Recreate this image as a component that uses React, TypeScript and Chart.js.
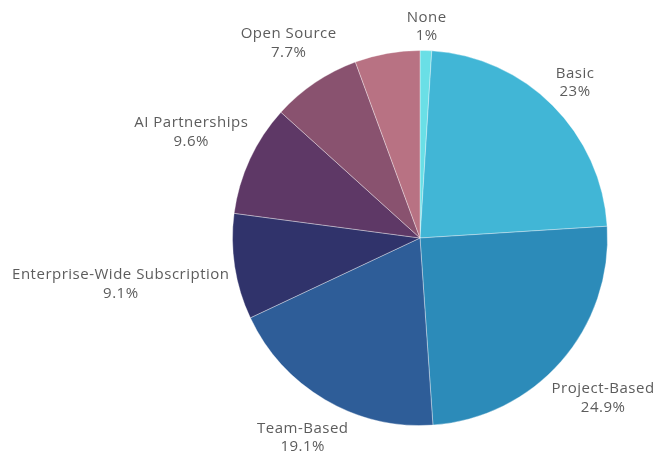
import React, { useEffect, useRef } from "react";
import { Chart, registerables } from "chart.js";

Chart.register(...registerables);

const categories = [
  "None",
  "Basic",
  "Project-Based",
  "Team-Based",
  "Enterprise-Wide Subscription",
  "AI Partnerships",
  "Open Source",
  "Other",
];
const values = [1, 23, 24.9, 19.1, 9.1, 9.6, 7.7, 5.6];
const valueLabels = ["1%", "23%", "24.9%", "19.1%", "9.1%", "9.6%", "7.7%", "5.6%"];
const hiddenLabels = ["Other"];
const colors = [
  "#6adfe6",
  "#41b6d6",
  "#2c8bb9",
  "#2e5d98",
  "#30336b",
  "#5e3866",
  "#89526f",
  "#b87283",
];

const FONT = '15px "Open Sans", sans-serif';
const LINE_H = 18.5;
const GAP = 5;

const outsideLabels = {
  id: "outsideLabels",
  afterDraw(chart: any) {
    const meta = chart.getDatasetMeta(0);
    const ctx = chart.ctx;
    ctx.save();
    ctx.font = FONT;
    try {
      (ctx as any).letterSpacing = "0.5px";
    } catch (e) {}
    ctx.fillStyle = "#5c5c5c";
    ctx.textAlign = "center";
    ctx.textBaseline = "middle";
    meta.data.forEach((arc: any, i: number) => {
      const name = categories[i];
      if (hiddenLabels.includes(name)) return;
      const { x, y, startAngle, endAngle, outerRadius } = arc.getProps(
        ["x", "y", "startAngle", "endAngle", "outerRadius"],
        true
      );
      const mid = (startAngle + endAngle) / 2;
      const ux = Math.cos(mid);
      const uy = Math.sin(mid);
      const w = Math.max(ctx.measureText(name).width, ctx.measureText(valueLabels[i]).width);
      const h = LINE_H * 2;
      const d = outerRadius + GAP + Math.abs(ux) * (w / 2) + Math.abs(uy) * (h / 2);
      const cx = x + ux * d;
      const cy = y + uy * d;
      ctx.fillText(name, cx, cy - LINE_H / 2);
      ctx.fillText(valueLabels[i], cx, cy + LINE_H / 2);
    });
    ctx.restore();
  },
};

export default function App() {
  const ref = useRef<HTMLCanvasElement | null>(null);
  useEffect(() => {
    if (!ref.current) return;
    const chart = new Chart(ref.current, {
      type: "pie",
      data: {
        labels: categories,
        datasets: [
          {
            data: values,
            backgroundColor: colors,
            borderColor: "rgba(255,255,255,0.35)",
            borderWidth: 1,
          },
        ],
      },
      options: {
        responsive: true,
        maintainAspectRatio: false,
        animation: false,
        layout: { padding: { left: 232, right: 46, top: 50, bottom: 26 } },
        plugins: {
          legend: { display: false },
          tooltip: { enabled: false },
        },
      },
      plugins: [outsideLabels],
    });
    return () => chart.destroy();
  }, []);
  return (
    <div style={{ position: "fixed", left: 0, top: 0, width: 654, height: 452, background: "#fff" }}>
      <canvas ref={ref} />
    </div>
  );
}
